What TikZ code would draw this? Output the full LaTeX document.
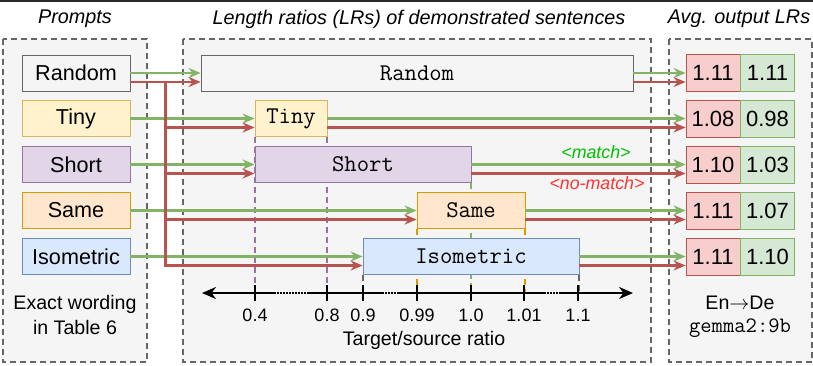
\documentclass[tikz,border=0pt]{standalone}
\usepackage{fontspec}
\setmainfont{Liberation Sans}
\usetikzlibrary{arrows.meta, calc}
\definecolor{panelfill}{HTML}{F5F5F5}
\definecolor{panelline}{HTML}{666666}
\definecolor{topbar}{HTML}{2B2B2B}
\definecolor{randfill}{HTML}{F5F5F5}
\definecolor{randline}{HTML}{666666}
\definecolor{tinyfill}{HTML}{FFF2CC}
\definecolor{tinyline}{HTML}{D6B656}
\definecolor{shortfill}{HTML}{E1D5E7}
\definecolor{shortline}{HTML}{9673A6}
\definecolor{samefill}{HTML}{FFE6CC}
\definecolor{sameline}{HTML}{D79B00}
\definecolor{isofill}{HTML}{DAE8FC}
\definecolor{isoline}{HTML}{6C8EBF}
\definecolor{redfill}{HTML}{F8CECC}
\definecolor{redline}{HTML}{B85450}
\definecolor{grnfill}{HTML}{D5E8D4}
\definecolor{grnline}{HTML}{82B366}
\definecolor{matchtxt}{HTML}{00C000}
\definecolor{nomatchtxt}{HTML}{FF3333}
\pgfdeclarelayer{back}
\pgfdeclarelayer{mid}
\pgfsetlayers{back,mid,main}

\begin{document}
\begin{tikzpicture}[x=0.5pt, y=-0.5pt, line width=1.2pt,
  panel/.style={fill=panelfill, draw=panelline, line width=1pt, dash pattern=on 3pt off 2pt},
  title/.style={font=\fontsize{9.9}{11}\selectfont\itshape, inner sep=0pt},
  promptbox/.style={fill=#1fill, draw=#1line, minimum width=54pt, minimum height=18pt,
                    inner sep=0pt, font=\fontsize{10.8}{12}\selectfont},
  demobox/.style={fill=#1fill, draw=#1line, minimum height=18pt,
                  inner sep=0pt, font=\fontsize{12}{12}\selectfont\ttfamily},
  cell/.style={fill=#1fill, draw=#1line, minimum width=27pt, minimum height=18.5pt,
               inner sep=0pt, font=\fontsize{11}{12}\selectfont},
  grnarr/.style={draw=grnline, line width=1.2pt, -{Stealth[length=6pt, width=5pt]}},
  redarr/.style={draw=redline, line width=1.2pt, -{Stealth[length=6pt, width=5pt]}},
  guide/.style={draw=#1, line width=1pt, dash pattern=on 3pt off 2pt},
  axisline/.style={draw=black, line width=1.1pt},
  dotline/.style={draw=black, line width=1.1pt, dash pattern=on 1pt off 0.5pt},
  ticklabel/.style={font=\fontsize{9}{10}\selectfont, inner sep=0pt},
  note/.style={font=\fontsize{9.8}{12.5}\selectfont, align=center, inner sep=0pt}
]

% Background and panels
\useasboundingbox (0,0) rectangle (813,365);
\begin{pgfonlayer}{back}
\fill[white] (0,0) rectangle (813,365);
\fill[topbar] (0,0) rectangle (813,2);
\draw[panel] (3,39) rectangle (147,362);
\draw[panel] (183,39) rectangle (651,362);
\draw[panel] (669,39) rectangle (812,362);
\end{pgfonlayer}

% Titles
\node[title] (tprompts) at (75,19) {Prompts};
\node[title] (tratios) at (419,19) {Length ratios (LRs) of demonstrated sentences};
\node[title] (toutput) at (739,19) {Avg. output LRs};

% Prompts
\node[promptbox=rand] (pRandom) at (76,73) {Random};
\node[promptbox=tiny] (pTiny) at (76,118.5) {Tiny};
\node[promptbox=short] (pShort) at (76,164.5) {Short};
\node[promptbox=same] (pSame) at (76,210.5) {Same};
\node[promptbox=iso] (pIso) at (76,256.5) {Isometric};
\node[note] (wording) at (75,315) {Exact wording\\in Table 6};

% Demonstrated sentences
\node[demobox=rand, minimum width=216pt] (dRandom) at (417,73) {Random};
\node[demobox=tiny, minimum width=36pt] (dTiny) at (291,118.5) {Tiny};
\node[demobox=short, minimum width=108pt] (dShort) at (363,164.5) {Short};
\node[demobox=same, minimum width=54pt] (dSame) at (471,210.5) {Same};
\node[demobox=iso, minimum width=108pt] (dIso) at (471,256.5) {Isometric};

% Output cells
\node[cell=red] (rRandom) at (713,73) {1.11};
\node[cell=grn] (gRandom) at (767.5,73) {1.11};
\node[cell=red] (rTiny) at (713,118.5) {1.08};
\node[cell=grn] (gTiny) at (767.5,118.5) {0.98};
\node[cell=red] (rShort) at (713,164.5) {1.10};
\node[cell=grn] (gShort) at (767.5,164.5) {1.03};
\node[cell=red] (rSame) at (713,210.5) {1.11};
\node[cell=grn] (gSame) at (767.5,210.5) {1.07};
\node[cell=red] (rIso) at (713,256.5) {1.11};
\node[cell=grn] (gIso) at (767.5,256.5) {1.10};
\node[note] (pair) at (740,303) {En$\rightarrow$De};
\node[note, font=\fontsize{11}{12}\selectfont\ttfamily] (model) at (740,328) {gemma2:9b};

% Axis
\coordinate (axisL) at (202,293);
\coordinate (axisR) at (633,293);
\draw[axisline, {Stealth[length=7pt, width=6pt]}-] (axisL) -- (274,293);
\draw[dotline] (274,293) -- (308,293);
\draw[axisline] (308,293) -- (382,293);
\draw[dotline] (382,293) -- (397,293);
\draw[axisline] (397,293) -- (544,293);
\draw[dotline] (544,293) -- (559,293);
\draw[axisline, -{Stealth[length=7pt, width=6pt]}] (559,293) -- (axisR);
\foreach \x/\lab [count=\i] in {255/0.4, 327/0.8, 363/0.9, 417/0.99, 471/1.0, 524/1.01, 578/1.1} {
  \draw[axisline] (\x,285) -- (\x,301);
  \node[ticklabel] (tick\i) at (\x,315) {\lab};
}
\node[font=\fontsize{9.8}{11}\selectfont, inner sep=0pt] (axtitle) at (424,340) {Target/source ratio};

% Guides down to the axis
\begin{pgfonlayer}{mid}
\draw[guide=shortline] (dTiny.south west) -- (dTiny.south west |- axisL);
\draw[guide=shortline] (dTiny.south east) -- (dTiny.south east |- axisL);
\draw[guide=grnline] (dShort.south east) -- (dShort.south east |- axisL);
\draw[guide=sameline] (dSame.south west) -- (dSame.south west |- axisL);
\draw[guide=sameline] (dSame.south east) -- (dSame.south east |- axisL);
\draw[guide=randline] (dIso.south west) -- (dIso.south west |- axisL);
\draw[guide=randline] (dIso.south east) -- (dIso.south east |- axisL);
\end{pgfonlayer}

% Matching prompts
\foreach \n in {Random,Tiny,Short,Same,Iso} {
  \draw[grnarr] (p\n.east) -- (d\n.west);
}

% Random prompt to every demonstration
\draw[redarr] ([yshift=-4.5pt]pRandom.east) -- ([yshift=-4.5pt]dRandom.west);
\foreach \n in {Tiny,Short,Same,Iso} {
  \draw[redarr] ([yshift=-4.5pt]pRandom.east) -- ++(35,0) |- ([yshift=-4.5pt]d\n.west);
}

% Demonstrations to outputs
\foreach \n in {Random,Tiny,Short,Same,Iso} {
  \draw[grnarr] (d\n.east) -- (r\n.west);
  \draw[redarr] ([yshift=-4.5pt]d\n.east) -- ([yshift=-4.5pt]r\n.west);
}
\node[font=\fontsize{8.9}{10}\selectfont\itshape, text=matchtxt, inner sep=0pt] (lmatch) at (596,152) {<match>};
\node[font=\fontsize{8.9}{10}\selectfont\itshape, text=nomatchtxt, inner sep=0pt] (lnomatch) at (597,183) {<no-match>};

\end{tikzpicture}
\end{document}
